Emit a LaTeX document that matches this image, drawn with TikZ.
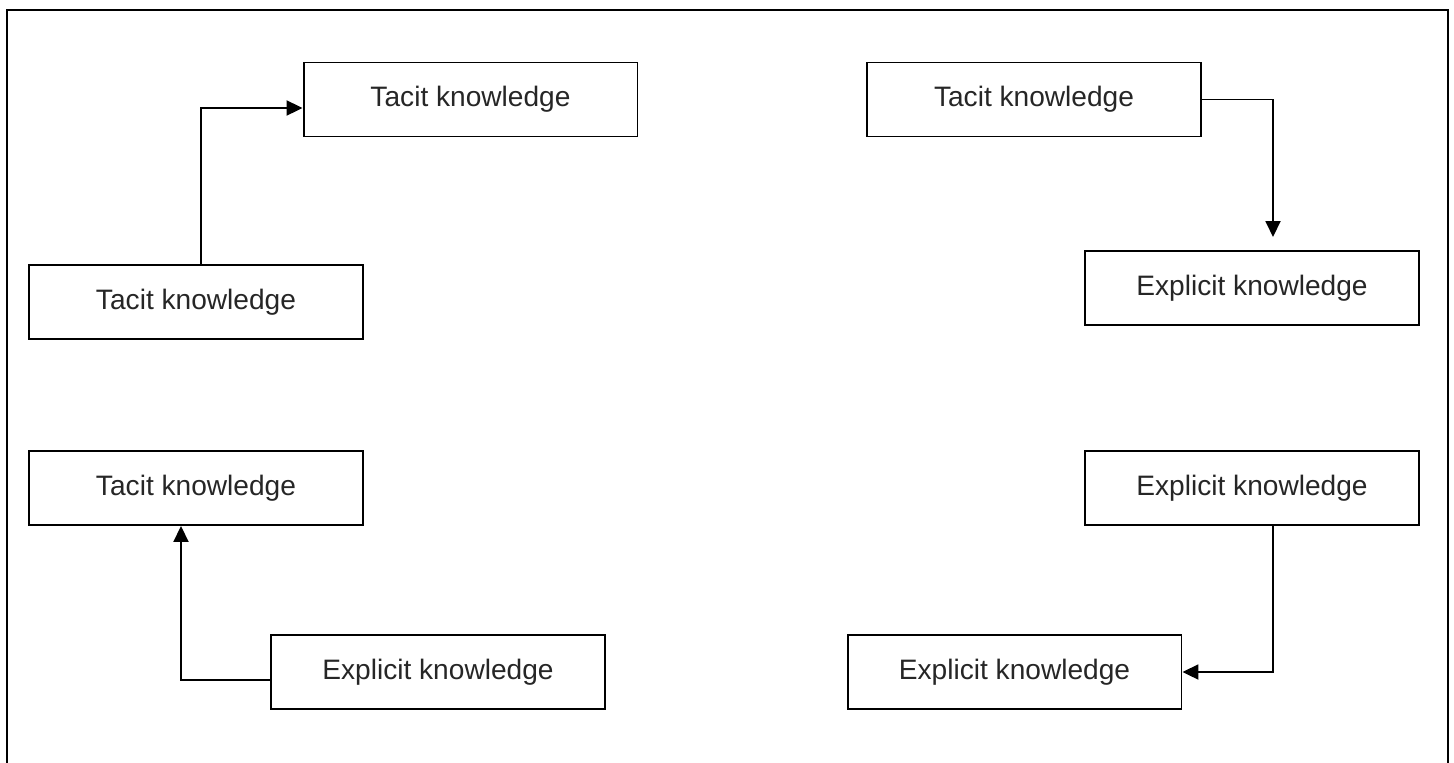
\documentclass[tikz,border=0pt]{standalone}
\usepackage{fontspec}
\setmainfont{Liberation Sans}
\usetikzlibrary{arrows.meta}
\begin{document}
\begin{tikzpicture}[x=0.02cm,y=-0.02cm,
		kbox/.style={draw,line width=1.1pt,minimum width=6.68cm,minimum height=1.48cm,inner sep=0pt,font=\fontsize{16}{19}\selectfont,text=black!85},
		link/.style={line width=1.1pt,-{Triangle[length=0.32cm,width=0.3cm]}}]
		\useasboundingbox (0,0) rectangle (1454,762);
		\draw[line width=1.1pt] (7,780) -- (7,10) -- (1448,10) -- (1448,780);
		% top left
		\node[kbox] (tacitA) at (470.5,99.5) {Tacit knowledge};
		\node[kbox] (tacitB) at (196,302) {Tacit knowledge};
		\draw[link] ([xshift=0.1cm]tacitB.north) |- ([yshift=-0.17cm]tacitA.west);
		% top right
		\node[kbox] (tacitC) at (1034,99.5) {Tacit knowledge};
		\node[kbox] (explD) at (1252,288) {Explicit knowledge};
		\coordinate (tipD) at (1273,237);
		\draw[link] (tacitC.east) -| (tipD);
		% bottom left
		\node[kbox] (tacitE) at (196,488) {Tacit knowledge};
		\node[kbox] (explF) at (438,672) {Explicit knowledge};
		\draw[link] ([yshift=-0.16cm]explF.west) -| ([xshift=-0.3cm]tacitE.south);
		% bottom right
		\node[kbox] (explG) at (1252,488) {Explicit knowledge};
		\node[kbox] (explH) at (1014.5,672) {Explicit knowledge};
		\draw[link] ([xshift=0.42cm]explG.south) |- (explH.east);
	\end{tikzpicture}
\end{document}
